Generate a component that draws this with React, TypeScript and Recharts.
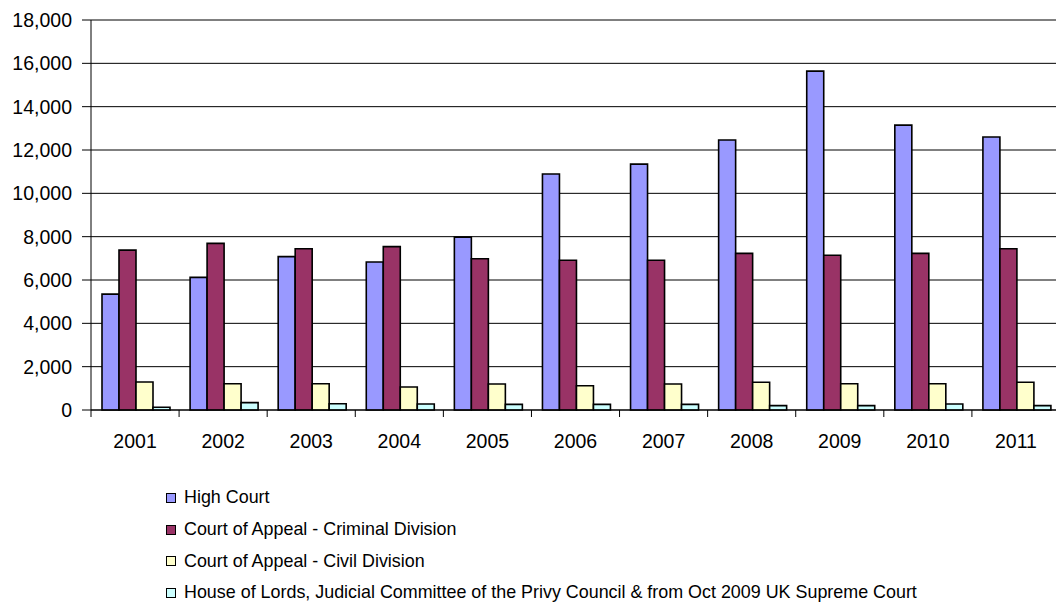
import { Bar, BarChart, CartesianGrid, Legend, XAxis, YAxis } from 'recharts';

const years = ['2001', '2002', '2003', '2004', '2005', '2006', '2007', '2008', '2009', '2010', '2011'];
const highCourt = [5350, 6120, 7080, 6830, 7980, 10890, 11350, 12460, 15640, 13150, 12600];
const criminalDivision = [7380, 7690, 7440, 7540, 6980, 6910, 6910, 7230, 7140, 7230, 7440];
const civilDivision = [1290, 1210, 1210, 1060, 1200, 1120, 1200, 1280, 1210, 1210, 1280];
const houseOfLords = [125, 340, 290, 280, 260, 260, 260, 200, 200, 280, 200];
const yTicks = [0, 2000, 4000, 6000, 8000, 10000, 12000, 14000, 16000, 18000];

const series = [
  { key: 'highCourt', name: 'High Court', color: '#9999FF' },
  { key: 'criminal', name: 'Court of Appeal - Criminal Division', color: '#993366' },
  { key: 'civil', name: 'Court of Appeal - Civil Division', color: '#FFFFCC' },
  {
    key: 'lords',
    name: 'House of Lords, Judicial Committee of the Privy Council & from Oct 2009 UK Supreme Court',
    color: '#CCFFFF',
  },
];

const data = years.map((year, i) => ({
  year,
  highCourt: highCourt[i],
  criminal: criminalDivision[i],
  civil: civilDivision[i],
  lords: houseOfLords[i],
}));

const CHART_W = 1060;
const CHART_H = 603;
const Y_AXIS_W = 91;
const HALF_BAND = (CHART_W - Y_AXIS_W) / years.length / 2;
const FONT = '"Liberation Sans", Arial, sans-serif';

function YearTick({ x, y, payload, index }: any) {
  return (
    <g>
      {index === 0 && <line x1={x - HALF_BAND} y1={y} x2={x - HALF_BAND} y2={y + 7} stroke="#000" />}
      <line x1={x + HALF_BAND} y1={y} x2={x + HALF_BAND} y2={y + 7} stroke="#000" />
      <text x={x} y={y + 38} textAnchor="middle" fontSize={19.5} fill="#000" fontFamily={FONT}>
        {payload.value}
      </text>
    </g>
  );
}

function LegendBox() {
  return (
    <div style={{ paddingTop: 9, paddingLeft: 166, height: 130, boxSizing: 'border-box', fontFamily: FONT }}>
      {series.map((s) => (
        <div key={s.key} style={{ display: 'flex', alignItems: 'center', height: 31.7 }}>
          <span
            style={{
              width: 10,
              height: 10,
              boxSizing: 'border-box',
              border: '1px solid #000',
              background: s.color,
              display: 'inline-block',
            }}
          />
          <span style={{ marginLeft: 8, fontSize: 17.9, color: '#000', whiteSpace: 'nowrap' }}>{s.name}</span>
        </div>
      ))}
    </div>
  );
}

export default function App() {
  return (
    <div
      style={{
        position: 'absolute',
        left: 0,
        top: 0,
        width: 1056,
        height: 603,
        overflow: 'hidden',
        background: '#fff',
      }}
    >
      <BarChart
        width={CHART_W}
        height={CHART_H}
        data={data}
        margin={{ top: 20, right: 0, left: 0, bottom: 0 }}
        barCategoryGap={11}
        barGap={0}
      >
        <CartesianGrid vertical={false} stroke="#000" />
        <XAxis
          dataKey="year"
          height={63}
          tickSize={0}
          tickMargin={0}
          axisLine={{ stroke: '#000' }}
          tick={<YearTick />}
          interval={0}
        />
        <YAxis
          width={Y_AXIS_W}
          domain={[0, 18000]}
          ticks={yTicks}
          interval={0}
          tickSize={9}
          tickMargin={10}
          axisLine={{ stroke: '#000' }}
          tickLine={{ stroke: '#000' }}
          tick={{ fontSize: 19.5, fill: '#000', fontFamily: FONT }}
          tickFormatter={(v: number) => v.toLocaleString('en-US')}
        />
        <Legend
          verticalAlign="bottom"
          align="center"
          content={<LegendBox />}
          wrapperStyle={{ left: 0, width: CHART_W }}
        />
        {series.map((s) => (
          <Bar
            key={s.key}
            dataKey={s.key}
            name={s.name}
            fill={s.color}
            stroke="#000"
            strokeWidth={1.6}
            isAnimationActive={false}
          />
        ))}
      </BarChart>
    </div>
  );
}
